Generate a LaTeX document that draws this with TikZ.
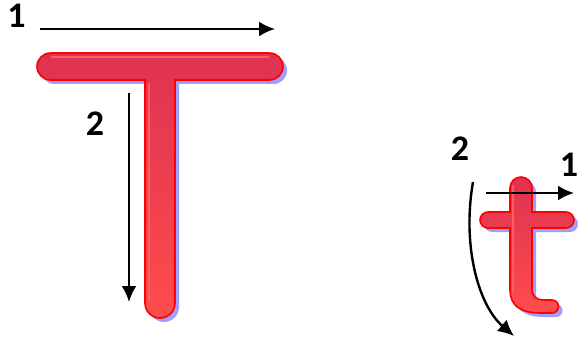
\documentclass[tikz,border=0pt]{standalone}
\usepackage{fontspec}
\setmainfont{Carlito}
\usetikzlibrary{arrows.meta}
\definecolor{shadowblue}{RGB}{158,158,255}
\definecolor{lettertop}{RGB}{222,50,82}
\definecolor{letterbot}{RGB}{255,76,76}
\definecolor{hilite}{RGB}{255,95,95}
\tikzset{
  letter/.style={draw=red, line width=1.6pt, top color=lettertop, bottom color=letterbot},
  shadow/.style={fill=shadowblue},
  stroke/.style={line width=2.4pt, -{Latex[length=16pt,width=15pt]}},
  num/.style={font=\bfseries\fontsize{36}{36}\selectfont, inner sep=0pt}
}
\begin{document}
\begin{tikzpicture}[x=1pt,y=-1pt]
\useasboundingbox (0,0) rectangle (578,342);
% Big T
\def\bigT{(50.5,53) -- (269.5,53) arc[start angle=-90,end angle=90,radius=13.5] -- (175,80) -- (175,303) arc[start angle=0,end angle=180,radius=15] -- (145,80) -- (50.5,80) arc[start angle=90,end angle=270,radius=13.5] -- cycle}
\fill[shadow, shift={(4,4)}] \bigT;
\path[letter] \bigT;
\draw[hilite, line width=2.5pt, line cap=round] (52,57) -- (268,57);
\draw[hilite, line width=2.5pt, line cap=round] (149,84) -- (149,300);
% small t
\def\smallT{(510,188) arc[start angle=180,end angle=360,radius=11] -- (532,212) -- (566,212) arc[start angle=-90,end angle=90,radius=8] -- (532,228) -- (532,288) .. controls (532,297) and (536,300) .. (545,300) -- (552,300) arc[start angle=-90,end angle=90,radius=6.5] -- (540,313) .. controls (520,313) and (510,305) .. (510,290) -- (510,228) -- (488,228) arc[start angle=90,end angle=270,radius=8] -- (510,212) -- cycle}
\fill[shadow, shift={(4,4)}] \smallT;
\path[letter] \smallT;
\draw[hilite, line width=2pt, line cap=round] (513,186) -- (513,292);
% arrows and numbers
\coordinate (a1s) at (40,29);
\coordinate (a1e) at (275,29);
\draw[stroke] (a1s) -- (a1e);
\node[num] (n1) at (16.5,16) {1};
\coordinate (a2s) at (129,93);
\coordinate (a2e) at (129,302);
\draw[stroke] (a2s) -- (a2e);
\node[num] (n2) at (95,124) {2};
\coordinate (b1s) at (486,193);
\coordinate (b1e) at (574,193);
\draw[stroke] (b1s) -- (b1e);
\node[num] (m1) at (569,165) {1};
\coordinate (b2s) at (473,182);
\coordinate (b2e) at (514,336);
\draw[stroke] (b2s) .. controls (462,245) and (478,305) .. (b2e);
\node[num] (m2) at (460,149) {2};
\end{tikzpicture}
\end{document}
